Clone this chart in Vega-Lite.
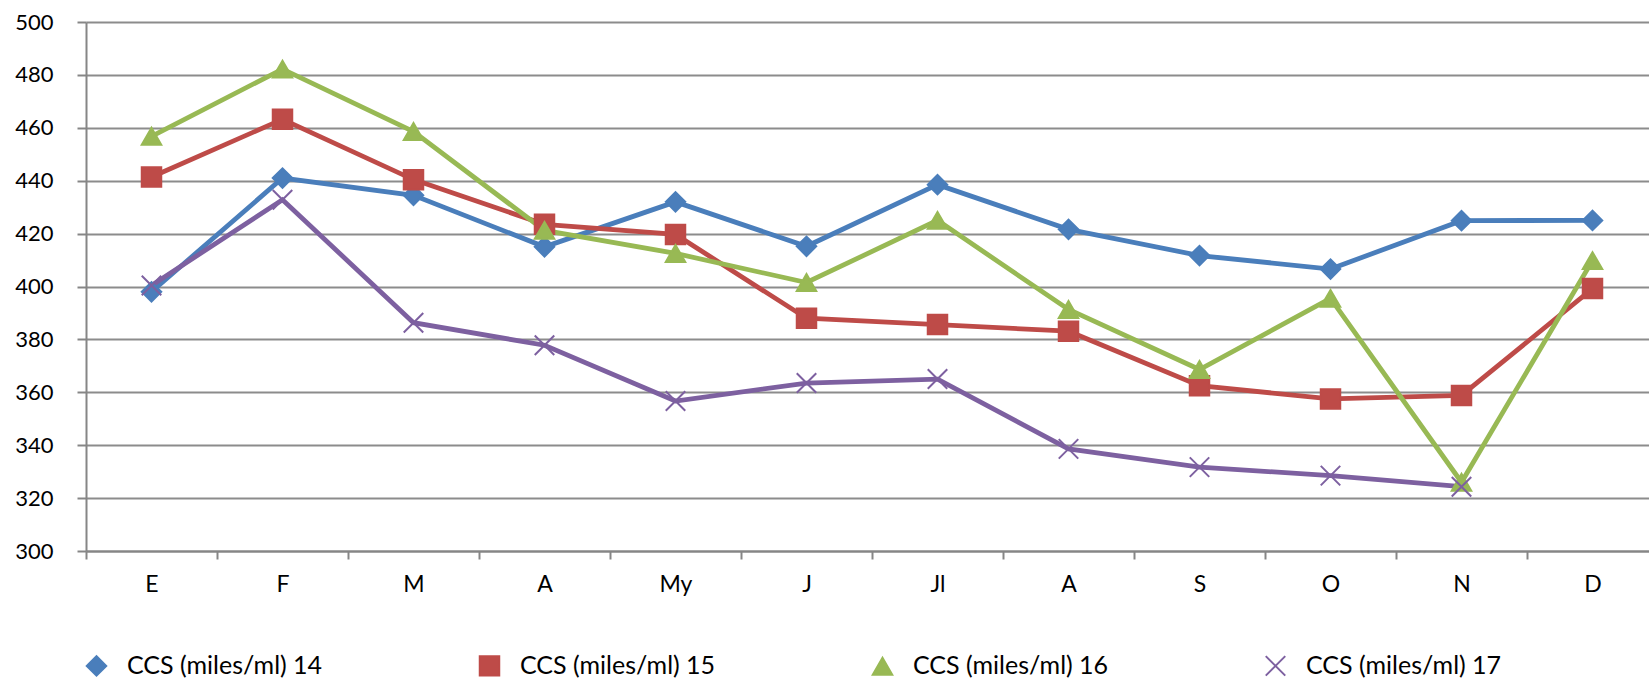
{
  "$schema": "https://vega.github.io/schema/vega-lite/v6.json",
  "width": 1572,
  "height": 529,
  "autosize": "none",
  "padding": {"left": 86, "top": 22, "right": 0, "bottom": 130},
  "background": "white",
  "config": {
    "font": "Lato",
    "view": {"stroke": null},
    "axis": {"labelFont": "Lato", "labelColor": "#000000"}
  },
  "data": {
    "values": [
      {"mes": "E", "serie": "CCS (miles/ml) 14", "valor": 398},
      {"mes": "F", "serie": "CCS (miles/ml) 14", "valor": 441},
      {"mes": "M", "serie": "CCS (miles/ml) 14", "valor": 434.5},
      {"mes": "A", "serie": "CCS (miles/ml) 14", "valor": 415},
      {"mes": "My", "serie": "CCS (miles/ml) 14", "valor": 432},
      {"mes": "J", "serie": "CCS (miles/ml) 14", "valor": 415.2},
      {"mes": "Jl", "serie": "CCS (miles/ml) 14", "valor": 438.5},
      {"mes": "A2", "serie": "CCS (miles/ml) 14", "valor": 421.6},
      {"mes": "S", "serie": "CCS (miles/ml) 14", "valor": 411.7},
      {"mes": "O", "serie": "CCS (miles/ml) 14", "valor": 406.6},
      {"mes": "N", "serie": "CCS (miles/ml) 14", "valor": 424.9},
      {"mes": "D", "serie": "CCS (miles/ml) 14", "valor": 425},
      {"mes": "E", "serie": "CCS (miles/ml) 15", "valor": 441.4},
      {"mes": "F", "serie": "CCS (miles/ml) 15", "valor": 463.2},
      {"mes": "M", "serie": "CCS (miles/ml) 15", "valor": 440.4},
      {"mes": "A", "serie": "CCS (miles/ml) 15", "valor": 423.5},
      {"mes": "My", "serie": "CCS (miles/ml) 15", "valor": 419.7},
      {"mes": "J", "serie": "CCS (miles/ml) 15", "valor": 388},
      {"mes": "Jl", "serie": "CCS (miles/ml) 15", "valor": 385.6},
      {"mes": "A2", "serie": "CCS (miles/ml) 15", "valor": 383.1},
      {"mes": "S", "serie": "CCS (miles/ml) 15", "valor": 362.5},
      {"mes": "O", "serie": "CCS (miles/ml) 15", "valor": 357.5},
      {"mes": "N", "serie": "CCS (miles/ml) 15", "valor": 358.8},
      {"mes": "D", "serie": "CCS (miles/ml) 15", "valor": 399.2},
      {"mes": "E", "serie": "CCS (miles/ml) 16", "valor": 456.8},
      {"mes": "F", "serie": "CCS (miles/ml) 16", "valor": 482.2},
      {"mes": "M", "serie": "CCS (miles/ml) 16", "valor": 458.6},
      {"mes": "A", "serie": "CCS (miles/ml) 16", "valor": 421.2},
      {"mes": "My", "serie": "CCS (miles/ml) 16", "valor": 412.5},
      {"mes": "J", "serie": "CCS (miles/ml) 16", "valor": 401.5},
      {"mes": "Jl", "serie": "CCS (miles/ml) 16", "valor": 425},
      {"mes": "A2", "serie": "CCS (miles/ml) 16", "valor": 391.3},
      {"mes": "S", "serie": "CCS (miles/ml) 16", "valor": 368.6},
      {"mes": "O", "serie": "CCS (miles/ml) 16", "valor": 395.5},
      {"mes": "N", "serie": "CCS (miles/ml) 16", "valor": 326},
      {"mes": "D", "serie": "CCS (miles/ml) 16", "valor": 409.8},
      {"mes": "E", "serie": "CCS (miles/ml) 17", "valor": 400.4},
      {"mes": "F", "serie": "CCS (miles/ml) 17", "valor": 432.8},
      {"mes": "M", "serie": "CCS (miles/ml) 17", "valor": 386.3},
      {"mes": "A", "serie": "CCS (miles/ml) 17", "valor": 377.8},
      {"mes": "My", "serie": "CCS (miles/ml) 17", "valor": 356.7},
      {"mes": "J", "serie": "CCS (miles/ml) 17", "valor": 363.5},
      {"mes": "Jl", "serie": "CCS (miles/ml) 17", "valor": 365},
      {"mes": "A2", "serie": "CCS (miles/ml) 17", "valor": 338.6},
      {"mes": "S", "serie": "CCS (miles/ml) 17", "valor": 331.7},
      {"mes": "O", "serie": "CCS (miles/ml) 17", "valor": 328.5},
      {"mes": "N", "serie": "CCS (miles/ml) 17", "valor": 324.3}
    ]
  },
  "encoding": {
    "x": {
      "field": "mes",
      "type": "nominal",
      "sort": ["E", "F", "M", "A", "My", "J", "Jl", "A2", "S", "O", "N", "D"],
      "scale": {"type": "band", "paddingInner": 0, "paddingOuter": 0},
      "axis": {
        "title": null,
        "labelAngle": 0,
        "labelExpr": "datum.value == 'A2' ? 'A' : datum.value",
        "labelFontSize": 23,
        "labelPadding": 14,
        "tickBand": "extent",
        "tickSize": 8,
        "tickColor": "#868686",
        "tickWidth": 2,
        "domainColor": "#868686",
        "domainWidth": 2,
        "grid": false
      }
    },
    "y": {
      "field": "valor",
      "type": "quantitative",
      "scale": {"domain": [300, 500], "nice": false, "zero": false},
      "axis": {
        "title": null,
        "values": [300, 320, 340, 360, 380, 400, 420, 440, 460, 480, 500],
        "labelFontSize": 22,
        "labelPadding": 24,
        "tickSize": 9,
        "tickColor": "#868686",
        "tickWidth": 2,
        "domainColor": "#868686",
        "domainWidth": 2,
        "grid": true,
        "gridColor": "#8c8c8c",
        "gridWidth": 2
      }
    },
    "color": {
      "field": "serie",
      "type": "nominal",
      "scale": {
        "domain": ["CCS (miles/ml) 14", "CCS (miles/ml) 15", "CCS (miles/ml) 16", "CCS (miles/ml) 17"],
        "range": ["#4A7EBB", "#BE4B48", "#98B954", "#7D60A0"]
      },
      "legend": {
        "title": null,
        "orient": "none",
        "legendX": -2,
        "legendY": 631,
        "direction": "horizontal",
        "columns": 4,
        "columnPadding": 152,
        "labelFontSize": 25,
        "labelFont": "Lato",
        "labelColor": "#000000",
        "labelLimit": 0,
        "symbolSize": 380,
        "symbolStrokeWidth": 2,
        "labelOffset": 18
      }
    }
  },
  "layer": [
    {
      "mark": {"type": "line", "strokeWidth": 4.8},
      "encoding": {"detail": {"field": "serie"}}
    },
    {
      "mark": {"type": "point", "filled": true, "opacity": 1, "strokeWidth": 2},
      "encoding": {
        "shape": {
          "field": "serie",
          "type": "nominal",
          "scale": {
            "domain": ["CCS (miles/ml) 14", "CCS (miles/ml) 15", "CCS (miles/ml) 16", "CCS (miles/ml) 17"],
            "range": ["diamond", "square", "triangle-up", "M-1,-1L1,1M1,-1L-1,1"]
          }
        },
        "stroke": {
          "field": "serie",
          "type": "nominal",
          "scale": {
            "domain": ["CCS (miles/ml) 14", "CCS (miles/ml) 15", "CCS (miles/ml) 16", "CCS (miles/ml) 17"],
            "range": ["#4A7EBB", "#BE4B48", "#98B954", "#7D60A0"]
          }
        },
        "size": {"value": 380}
      }
    }
  ]
}
